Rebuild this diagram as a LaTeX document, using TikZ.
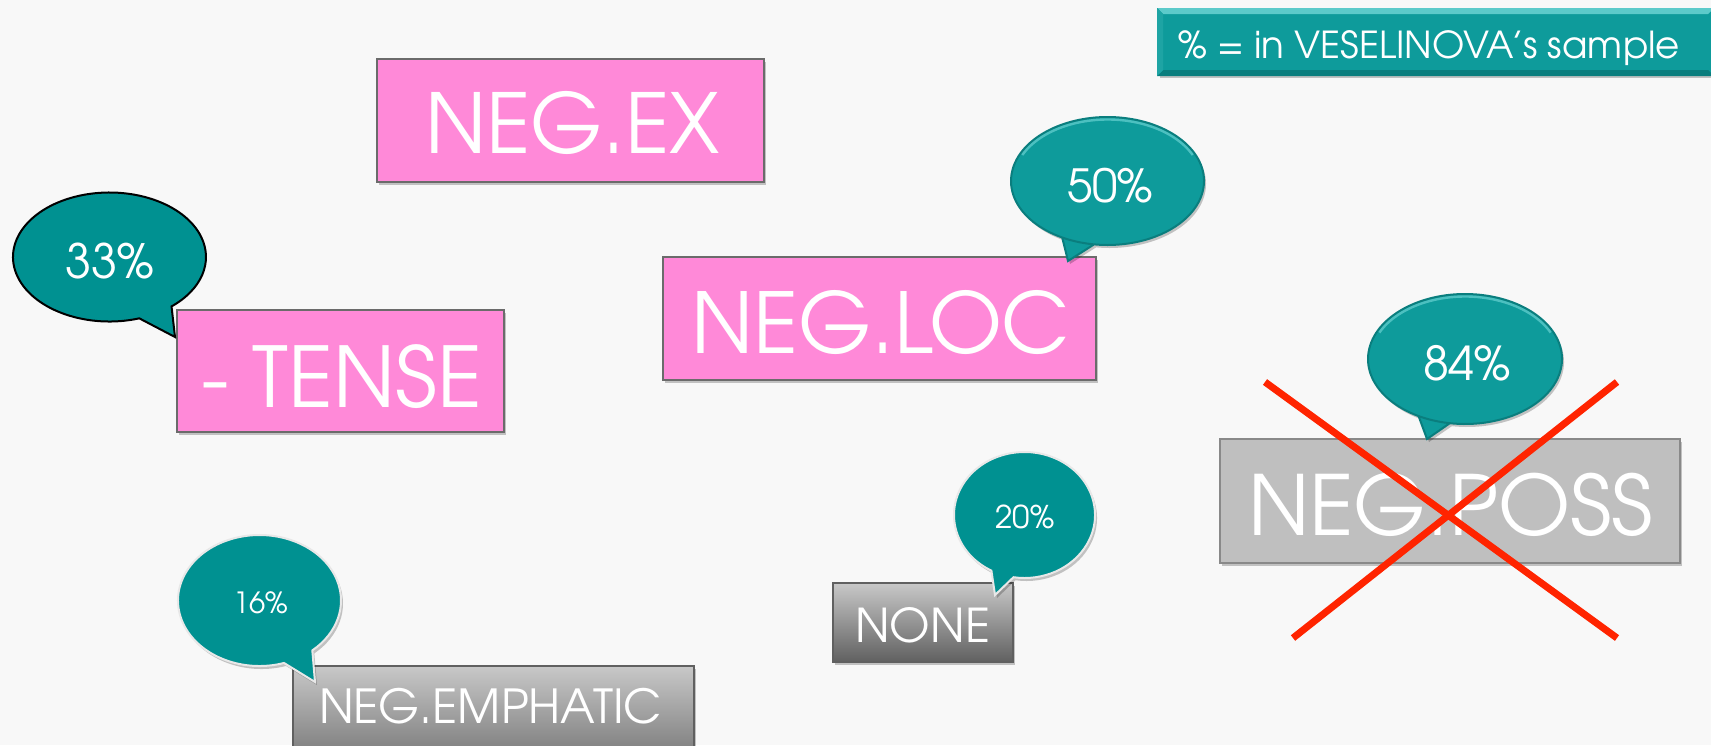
\documentclass[tikz,border=0pt]{standalone}
\usepackage{fontspec}
\setmainfont{TeX Gyre Adventor}
\usetikzlibrary{shadows,calc}
\definecolor{bg}{HTML}{F8F8F8}
\definecolor{pinkfill}{HTML}{FF89D8}
\definecolor{boxline}{HTML}{6B6B6B}
\definecolor{grayfill}{HTML}{BFBFBF}
\definecolor{gradtop}{HTML}{C8C8C8}
\definecolor{gradbot}{HTML}{606060}
\definecolor{tealflat}{HTML}{009191}
\definecolor{tealbev}{HTML}{0E9B9B}
\definecolor{tealdark}{HTML}{0A7E7E}
\definecolor{teallight}{HTML}{5CCACA}
\definecolor{xred}{HTML}{FF2400}
\tikzset{
  shade/.style={drop shadow={shadow xshift=1pt, shadow yshift=-1.5pt, fill=black, opacity=0.22}},
  labelbox/.style={draw=boxline, line width=1pt, inner sep=0pt, shade},
  pinkbox/.style={labelbox, fill=pinkfill},
  graybox/.style={labelbox, fill=grayfill, draw=boxline!80!white},
  gradbox/.style={labelbox, top color=gradtop, bottom color=gradbot, draw=boxline!90!black},
  txt/.style={text=white, inner sep=0pt, anchor=base},
  flatbubble/.style={fill=tealflat, draw=#1, line width=1pt},
  bevbubble/.style={fill=tealbev, draw=tealdark, line width=1pt, shade},
  rim/.style={draw=teallight, line width=1.2pt, opacity=0.8},
  cross/.style={draw=xred, line width=3.5pt}
}
\newcommand\fitw[2]{\resizebox{#1pt}{!}{#2}}
\begin{document}
\begin{tikzpicture}[x=0.5pt,y=-0.5pt]
\fill[bg] (0,0) rectangle (1711,745);
\useasboundingbox (0,0) rectangle (1711,745);
\clip (0,0) rectangle (1711,745);

% key box
\node[draw=tealdark, fill=tealbev, line width=1pt, inner sep=0pt, minimum width=277.5pt, minimum height=33pt, shade] (keybox) at (1435.5,42) {};
\fill[teallight] (keybox.north west) -- (keybox.north east) -- ($(keybox.north east)+(-6,6)$) -- ($(keybox.north west)+(6,6)$) -- cycle;
\fill[tealdark] (keybox.south west) -- (keybox.south east) -- ($(keybox.south east)+(-6,-6)$) -- ($(keybox.south west)+(6,-6)$) -- cycle;
\fill[tealbev!80!teallight] (keybox.north west) -- ($(keybox.north west)+(6,6)$) -- ($(keybox.south west)+(6,-6)$) -- (keybox.south west) -- cycle;
\node[txt] (key) at (1429,58) {\fitw{251}{\fontsize{20}{24}\selectfont \% = in VESELINOVA’s sample}};

% pink boxes
\node[pinkbox, minimum width=193.5pt, minimum height=61.5pt] (exbox) at (570.5,120.5) {};
\node[txt] (ex) at (572.5,153) {\fitw{147.5}{\fontsize{44}{50}\selectfont NEG.EX}};

\node[pinkbox, minimum width=163.5pt, minimum height=61pt] (tensebox) at (340.5,371) {};
\node[txt] (tense) at (342,407) {\fitw{140}{\fontsize{44}{50}\selectfont - TENSE}};

\node[pinkbox, minimum width=216.5pt, minimum height=61.5pt] (locbox) at (879.5,318.5) {};
\node[txt] (loc) at (880.5,353) {\fitw{189.5}{\fontsize{44}{50}\selectfont NEG.LOC}};

% gray boxes
\node[graybox, minimum width=230pt, minimum height=62pt] (possbox) at (1450,501) {};
\node[txt] (poss) at (1450.5,535) {\fitw{202.5}{\fontsize{44}{50}\selectfont NEG.POSS}};

\node[gradbox, minimum width=200.5pt, minimum height=62pt] (emphbox) at (493.5,728) {};
\node[txt] (emph) at (490.5,723) {\fitw{171.5}{\fontsize{24}{28}\selectfont NEG.EMPHATIC}};

\node[gradbox, minimum width=90pt, minimum height=39.5pt] (nonebox) at (923,622.5) {};
\node[txt] (none) at (922.5,642) {\fitw{67.5}{\fontsize{24}{28}\selectfont NONE}};

% bubbles
\path[flatbubble=black] (109.5,257) ++(72:96.5 and 64.5) arc[start angle=72, end angle=410, x radius=96.5, y radius=64.5] -- (175,337) -- cycle;
\node[txt] (p33) at (110,278) {\fitw{44.5}{\fontsize{26}{30}\selectfont 33\%}};

\path[flatbubble=white!82!gray, shade] (259.5,600.5) ++(72.5:81.5 and 65.5) arc[start angle=72.5, end angle=409.6, x radius=81.5, y radius=65.5] -- (315,682) -- cycle;
\node[txt] (p16) at (260.5,613) {\fitw{27.5}{\fontsize{16}{20}\selectfont 16\%}};

\path[flatbubble=white!82!gray, shade] (1024.5,515) ++(118:70.5 and 63) arc[start angle=118, end angle=459, x radius=70.5, y radius=63] -- (995,595) -- cycle;
\node[txt] (p20) at (1025,528) {\fitw{29.5}{\fontsize{16}{20}\selectfont 20\%}};

\path[bevbubble] (1107.5,181) ++(98:96.5 and 64) arc[start angle=98, end angle=478, x radius=96.5, y radius=64] -- (1068,261) -- cycle;
\draw[rim] (1107.5,181) ++(205:94 and 61.5) arc[start angle=205, end angle=335, x radius=94, y radius=61.5];
\node[txt] (p50) at (1110,202) {\fitw{43}{\fontsize{26}{30}\selectfont 50\%}};

\path[bevbubble] (1465,359) ++(99:97 and 65) arc[start angle=99, end angle=478.6, x radius=97, y radius=65] -- (1427,439) -- cycle;
\draw[rim] (1465,359) ++(205:94.5 and 62.5) arc[start angle=205, end angle=335, x radius=94.5, y radius=62.5];
\node[txt] (p84) at (1467,380) {\fitw{44}{\fontsize{26}{30}\selectfont 84\%}};

% red cross
\coordinate (xa) at (1265,382);
\coordinate (xb) at (1617,638);
\coordinate (xc) at (1617,382);
\coordinate (xd) at (1293,638);
\draw[cross] (xa) -- (xb);
\draw[cross] (xc) -- (xd);
\end{tikzpicture}
\end{document}
